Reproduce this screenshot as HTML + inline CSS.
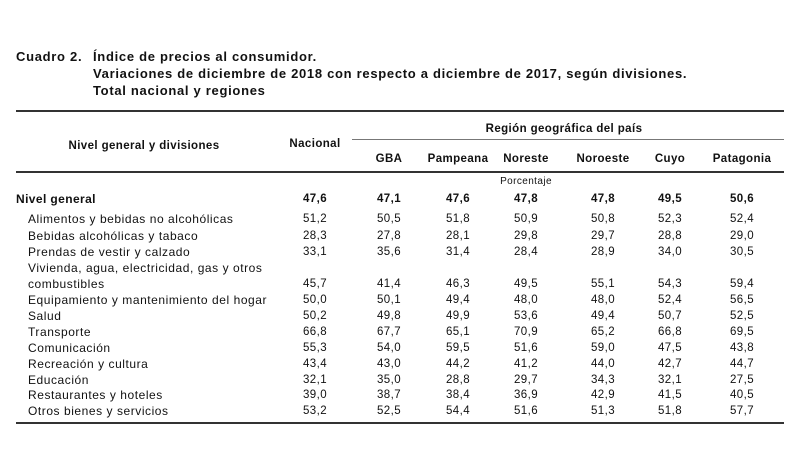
<!DOCTYPE html>
<html><head><meta charset="utf-8"><style>
body{margin:0;width:800px;height:453px;background:#fff;font-family:"Liberation Sans",Arial,sans-serif;color:#111;position:relative;overflow:hidden}
div{position:absolute;white-space:nowrap}
.t{font-weight:bold;font-size:13px;letter-spacing:0.7px}
.h{font-weight:bold;font-size:11.5px;letter-spacing:0.5px}
.c{transform:translateX(-50%);font-size:11.5px;letter-spacing:0.4px}
.l{left:28px;font-size:12px;letter-spacing:0.55px}
.line{background:#333;left:16px;width:768px;height:2px}
</style></head><body>
<div class="t" style="left:16px;top:49px">Cuadro 2.</div>
<div class="t" style="left:93px;top:49px">Índice de precios al consumidor.</div>
<div class="t" style="left:93px;top:66px">Variaciones de diciembre de 2018 con respecto a diciembre de 2017, según divisiones.</div>
<div class="t" style="left:93px;top:83px">Total nacional y regiones</div>
<div class="line" style="top:110px"></div>
<div class="line" style="top:139px;left:352px;width:432px;height:1px;background:#777"></div>
<div class="line" style="top:171px"></div>
<div class="line" style="top:422px;height:1.5px"></div>
<div class="h c" style="left:144px;top:140px">Nivel general y divisiones</div>
<div class="h c" style="left:315px;top:138px">Nacional</div>
<div class="h c" style="left:564px;top:123px">Región geográfica del país</div>
<div class="h c" style="left:389px;top:153px">GBA</div>
<div class="h c" style="left:458px;top:153px">Pampeana</div>
<div class="h c" style="left:526px;top:153px">Noreste</div>
<div class="h c" style="left:603px;top:153px">Noroeste</div>
<div class="h c" style="left:670px;top:153px">Cuyo</div>
<div class="h c" style="left:742px;top:153px">Patagonia</div>
<div class="c" style="left:526px;top:176px;font-size:10px">Porcentaje</div>
<div id="rows"></div>
<script>
var d=[
["Nivel general",193,["47,6","47,1","47,6","47,8","47,8","49,5","50,6"],1],
["Alimentos y bebidas no alcohólicas",213,["51,2","50,5","51,8","50,9","50,8","52,3","52,4"]],
["Bebidas alcohólicas y tabaco",230,["28,3","27,8","28,1","29,8","29,7","28,8","29,0"]],
["Prendas de vestir y calzado",246,["33,1","35,6","31,4","28,4","28,9","34,0","30,5"]],
["Vivienda, agua, electricidad, gas y otros",262,null],
["combustibles",278,["45,7","41,4","46,3","49,5","55,1","54,3","59,4"]],
["Equipamiento y mantenimiento del hogar",294,["50,0","50,1","49,4","48,0","48,0","52,4","56,5"]],
["Salud",310,["50,2","49,8","49,9","53,6","49,4","50,7","52,5"]],
["Transporte",326,["66,8","67,7","65,1","70,9","65,2","66,8","69,5"]],
["Comunicación",342,["55,3","54,0","59,5","51,6","59,0","47,5","43,8"]],
["Recreación y cultura",358,["43,4","43,0","44,2","41,2","44,0","42,7","44,7"]],
["Educación",374,["32,1","35,0","28,8","29,7","34,3","32,1","27,5"]],
["Restaurantes y hoteles",389,["39,0","38,7","38,4","36,9","42,9","41,5","40,5"]],
["Otros bienes y servicios",405,["53,2","52,5","54,4","51,6","51,3","51,8","57,7"]]];
var xs=[315,389,458,526,603,670,742],h="";
d.forEach(function(r){var b=r[3]?"font-weight:bold;letter-spacing:0.4px;":"";
h+='<div class="l" style="top:'+(r[1]-1)+'px;'+(r[3]?'left:16px;':'')+b+'">'+r[0]+'</div>';
if(r[2])r[2].forEach(function(v,i){h+='<div class="c" style="left:'+xs[i]+'px;top:'+r[1]+'px;'+b+'">'+v+'</div>';});});
document.getElementById("rows").outerHTML=h;
</script>
</body></html>
